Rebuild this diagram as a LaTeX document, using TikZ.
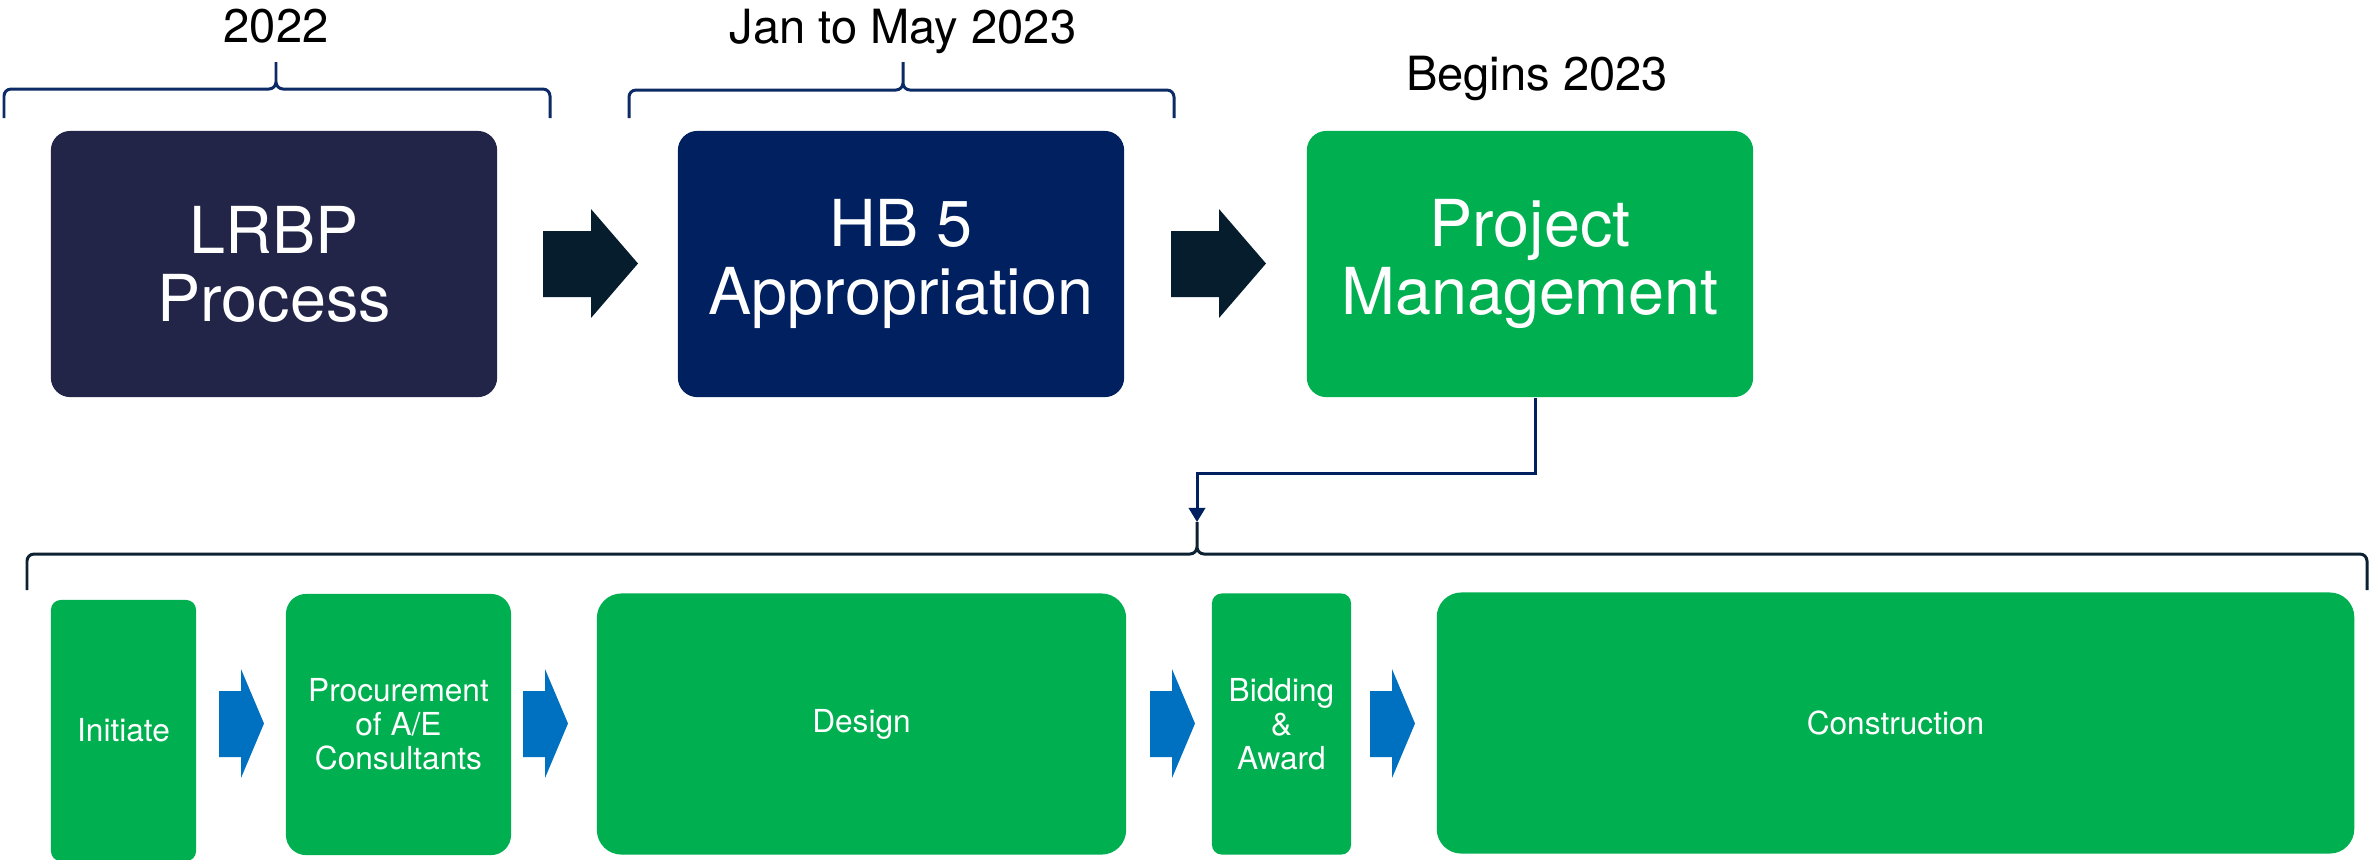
\documentclass[tikz,border=0pt]{standalone}
\usepackage{fontspec}
\setmainfont{TeX Gyre Heros}
\usetikzlibrary{arrows.meta}
\definecolor{lrbpnavy}{HTML}{222548}
\definecolor{hbnavy}{HTML}{002060}
\definecolor{pmgreen}{HTML}{00B050}
\definecolor{darkarrow}{HTML}{061D2D}
\definecolor{bluearrow}{HTML}{0070C0}
\definecolor{bracenavy}{HTML}{0B2A66}
\definecolor{bracedark}{HTML}{0C2233}
\begin{document}
\begin{tikzpicture}
[x=0.01cm,y=-0.01cm,
  bigbox/.style={shape=rectangle,rounded corners=5.5pt,minimum width=4.46cm,minimum height=2.66cm,inner sep=0pt,align=center,text=white,font=\fontsize{18.4}{19.3}\selectfont},
  stepbox/.style={shape=rectangle,minimum height=2.61cm,inner sep=0pt,align=center,text=white,fill=pmgreen,font=\fontsize{9}{9.7}\selectfont},
  yearlabel/.style={anchor=base,inner sep=0pt,font=\fontsize{13.4}{15}\selectfont},
  bracedecorate/.style={line width=0.85pt,rounded corners=2pt},
  arrowdecorate/.style={line width=0.85pt,draw=hbnavy,-{Triangle[width=4.6pt,length=4pt]}}]
\useasboundingbox (0,0) rectangle (2369,859);
% top row
\node (lrbp) at (274,264) [bigbox,fill=lrbpnavy] {LRBP\\Process};
\node (hb5) at (901,264) [bigbox,fill=hbnavy] {HB 5\\Appropriation};
\node (pm) at (1530,264) [bigbox,fill=pmgreen] {Project\\Management};
\node (y2022) at (276,42) [yearlabel] {2022};
\node (y2023) at (903,43) [yearlabel] {Jan to May 2023};
\node (ybegin) at (1537,90) [yearlabel] {Begins 2023};
% braces over the top row
\draw[bracedecorate,draw=bracenavy] (4,118) -- (4,89) -- (276,89) -- (276,62)
  (276,62) -- (276,89) -- (550,89) -- (550,118);
\draw[bracedecorate,draw=bracenavy] (629,118) -- (629,90) -- (903,90) -- (903,62)
  (903,62) -- (903,90) -- (1174,90) -- (1174,118);
% block arrows
\fill[darkarrow] (543,231) -- ++(48,0) -- ++(0,-22) -- ++(47,54.5) -- ++(-47,54.5) -- ++(0,-21) -- ++(-48,0) -- cycle;
\fill[darkarrow] (1171,231) -- ++(48,0) -- ++(0,-22) -- ++(47,54.5) -- ++(-47,54.5) -- ++(0,-21) -- ++(-48,0) -- cycle;
% bottom row
\node (init) at (123.5,730.5) [stepbox,minimum width=1.45cm,rounded corners=2.8pt] {Initiate};
\node (proc) at (398.5,724.5) [stepbox,minimum width=2.25cm,rounded corners=5.7pt] {Procurement\\of A/E\\Consultants};
\node (design) at (861.5,724) [stepbox,minimum width=5.29cm,rounded corners=7pt] {Design};
\node (bid) at (1281.5,724) [stepbox,minimum width=1.39cm,rounded corners=2.8pt] {Bidding\\\&\\Award};
\node (constr) at (1895.5,723) [stepbox,minimum width=9.17cm,rounded corners=7pt] {Construction};
\fill[bluearrow] (219,691) -- ++(22,0) -- ++(0,-22) -- ++(23,54.5) -- ++(-23,54.5) -- ++(0,-21) -- ++(-22,0) -- cycle;
\fill[bluearrow] (523,691) -- ++(22,0) -- ++(0,-22) -- ++(23,54.5) -- ++(-23,54.5) -- ++(0,-21) -- ++(-22,0) -- cycle;
\fill[bluearrow] (1150,691) -- ++(22,0) -- ++(0,-22) -- ++(23,54.5) -- ++(-23,54.5) -- ++(0,-21) -- ++(-22,0) -- cycle;
\fill[bluearrow] (1370,691) -- ++(22,0) -- ++(0,-22) -- ++(23,54.5) -- ++(-23,54.5) -- ++(0,-21) -- ++(-22,0) -- cycle;
% brace under the project box
\coordinate (brtip) at (1197,522);
\coordinate (elbow) at (1197,473);
\draw[bracedecorate,draw=bracedark] (27,590) -- (27,554) -- (brtip |- 0,554) -- (brtip)
  (brtip) -- (brtip |- 0,554) -- (2367,554) -- (2367,590);
\draw[arrowdecorate] ([xshift=0.05cm]pm.south) |- (elbow) -- (brtip);
\end{tikzpicture}
\end{document}
